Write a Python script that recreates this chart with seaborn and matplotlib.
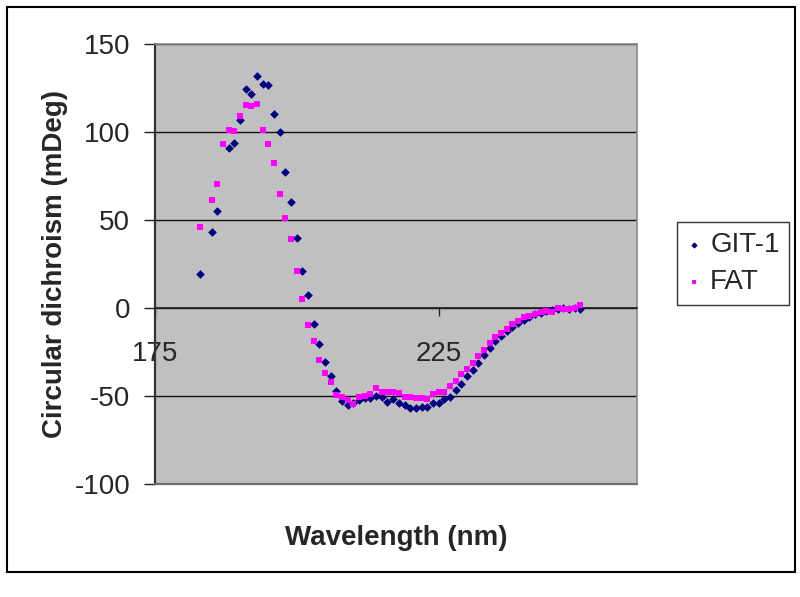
import matplotlib
matplotlib.use("Agg")
import matplotlib.pyplot as plt
import seaborn as sns
import pandas as pd
from matplotlib.patches import Rectangle

# ---- data ----
git_wavelength = [183, 185, 186, 188, 189, 190, 191, 192, 193, 194, 195, 196, 197, 198, 199,
                  200, 201, 202, 203, 204, 205, 206, 207, 208, 209, 210, 211, 212, 213, 214,
                  215, 216, 217, 218, 219, 220, 221, 222, 223, 224, 225, 226, 227, 228, 229,
                  230, 231, 232, 233, 234, 235, 236, 237, 238, 239, 240, 241, 242, 243, 244,
                  245, 246, 247, 248, 249, 250]
git_cd = [19.5, 43.4, 55.1, 90.7, 93.9, 106.6, 124.3, 121.6, 131.8, 127.1, 126.5, 110.2, 100.2, 77.1, 60.2,
          39.6, 21.0, 7.4, -9.3, -20.5, -30.9, -38.4, -47.0, -53.0, -55.1, -53.8, -52.3, -51.0, -51.3, -50.2,
          -50.4, -53.4, -51.9, -54.2, -54.9, -56.8, -56.6, -56.1, -56.4, -54.2, -54.2, -51.6, -50.4, -46.6, -43.2,
          -38.6, -35.2, -31.1, -26.7, -22.5, -18.6, -15.7, -13.1, -10.6, -8.3, -6.8, -4.9, -3.6, -2.7, -1.9,
          -1.1, -0.4, -0.2, -0.4, -0.2, -0.8]

fat_wavelength = [183, 185, 186, 187, 188, 189, 190, 191, 192, 193, 194, 195, 196, 197, 198, 199,
                  200, 201, 202, 203, 204, 205, 206, 207, 208, 209, 210, 211, 212, 213, 214,
                  215, 216, 217, 218, 219, 220, 221, 222, 223, 224, 225, 226, 227, 228, 229,
                  230, 231, 232, 233, 234, 235, 236, 237, 238, 239, 240, 241, 242, 243, 244,
                  245, 246, 247, 248, 249, 250]
fat_cd = [45.8, 61.5, 70.6, 93.0, 101.1, 100.4, 109.1, 115.3, 114.6, 115.9, 101.1, 93.0, 82.2, 64.8, 51.3, 39.2,
          21.0, 4.9, -9.8, -18.6, -29.5, -37.1, -42.0, -49.4, -50.6, -52.3, -54.5, -50.6, -49.8, -48.9, -45.5,
          -47.7, -47.7, -47.5, -48.5, -50.4, -50.6, -51.1, -51.1, -51.9, -48.9, -47.7, -47.7, -44.5, -41.5, -37.5,
          -34.8, -31.4, -27.3, -23.9, -20.1, -16.5, -14.4, -12.1, -9.1, -7.4, -4.9, -4.5, -3.4, -2.5, -1.5,
          -2.1, -0.2, -0.8, -0.4, 0.2, 1.5]

series_names = ["GIT-1", "FAT"]
x_ticks = [175, 225]
y_ticks = [-100, -50, 0, 50, 100, 150]
x_label = "Wavelength (nm)"
y_label = "Circular dichroism (mDeg)"

# ---- style ----
sns.set_theme(style="white")
plt.rcParams["font.family"] = ["Liberation Sans", "DejaVu Sans"]
plt.rcParams["axes.unicode_minus"] = False

fig = plt.figure(figsize=(8.0, 5.97), dpi=100)
fig.patch.set_facecolor("white")
ax = fig.add_axes([0.19375, 0.1893, 0.6025, 0.737])
ax.set_facecolor("#C0C0C0")

df_git = pd.DataFrame({"wavelength": git_wavelength, "cd": git_cd})
df_fat = pd.DataFrame({"wavelength": fat_wavelength, "cd": fat_cd})

sns.scatterplot(data=df_git, x="wavelength", y="cd", ax=ax, marker="D", s=15,
                color="#000080", edgecolor="#000080", linewidth=0.5, label=series_names[0], zorder=3)
sns.scatterplot(data=df_fat, x="wavelength", y="cd", ax=ax, marker="s", s=13,
                color="#FF00FF", edgecolor="#FF00FF", linewidth=0, label=series_names[1], zorder=3)

ax.set_xlim(175, 260)
ax.set_ylim(-100, 150)
ax.set_xticks(x_ticks)
ax.set_yticks(y_ticks)
ax.set_xticklabels([str(v) for v in x_ticks])
ax.set_yticklabels([str(v) for v in y_ticks])

# gridlines
ax.yaxis.grid(True, color="#111111", linewidth=1.0)
ax.xaxis.grid(False)
ax.set_axisbelow(True)

# spines: x-axis crosses at y=0
ax.spines["bottom"].set_position(("data", 0))
ax.spines["bottom"].set_color("#222222")
ax.spines["bottom"].set_linewidth(1.2)
ax.spines["left"].set_color("#333333")
ax.spines["left"].set_linewidth(1.6)
for s in ["top", "right"]:
    ax.spines[s].set_visible(True)
    ax.spines[s].set_color("#8A8A8A")
    ax.spines[s].set_linewidth(1.2)
# bottom border of plot area (at -100)
ax.axhline(-100, color="#6E6E6E", linewidth=1.6, zorder=2.6, clip_on=False)

ax.tick_params(axis="x", direction="out", length=6, width=1, color="#222222",
               labelsize=20, pad=18, bottom=True)
ax.tick_params(axis="y", direction="out", length=8, width=1, color="#222222",
               labelsize=20, pad=10, left=True)

ax.set_xlabel(x_label, fontsize=20, fontweight="bold")
ax.set_ylabel(y_label, fontsize=20, fontweight="bold")
ax.xaxis.set_label_coords(0.5, -0.094)
ax.yaxis.set_label_coords(-0.18, 0.5)

leg = ax.legend(loc="upper left", bbox_to_anchor=(0.846, 0.628),
                bbox_transform=fig.transFigure, frameon=True, fancybox=False,
                shadow=False, fontsize=20, borderpad=0.35, labelspacing=0.42,
                handlelength=0.55, handletextpad=0.3, borderaxespad=0,
                markerscale=0.7)
leg.get_frame().set_edgecolor("#000000")
leg.get_frame().set_linewidth(1.0)
leg.get_frame().set_facecolor("white")

# outer chart border
fig.patches.append(Rectangle((0.00875, 0.0419), 0.985, 0.9464, transform=fig.transFigure,
                             fill=False, edgecolor="#000000", linewidth=1.5))

fig.savefig("out.png", dpi=100)
